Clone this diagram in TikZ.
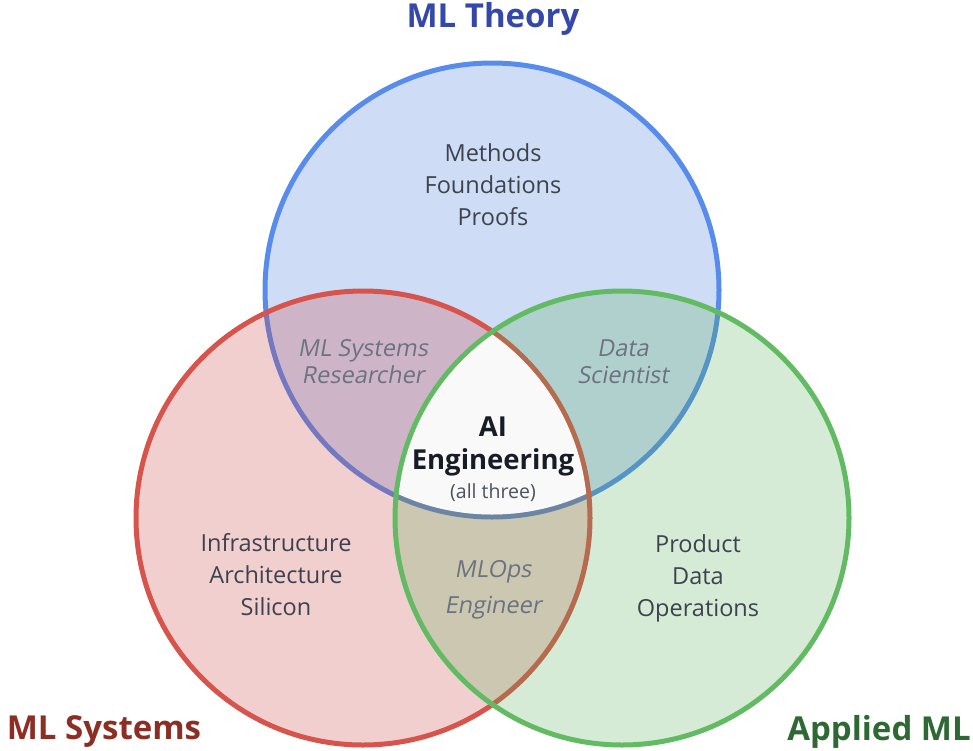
\documentclass[tikz,border=0pt]{standalone}
\usepackage{fontspec}
\setmainfont{Open Sans}
\newfontfamily\rolefont[FakeSlant=0.18]{Open Sans}
\definecolor{thBase}{RGB}{63,115,215}
\definecolor{thLine}{RGB}{88,140,236}
\definecolor{syBase}{RGB}{203,63,63}
\definecolor{syLine}{RGB}{214,84,76}
\definecolor{apBase}{RGB}{87,175,87}
\definecolor{apLine}{RGB}{98,187,98}
\definecolor{thTitle}{RGB}{52,72,170}
\definecolor{syTitle}{RGB}{140,46,36}
\definecolor{apTitle}{RGB}{46,105,52}
\definecolor{bodyText}{RGB}{60,66,78}
\definecolor{roleText}{RGB}{108,114,128}
\definecolor{coreText}{RGB}{24,28,38}
\definecolor{noteText}{RGB}{75,82,96}
\tikzset{
  ring/.style={line width=5pt},
  title/.style={font=\fontsize{33}{38}\selectfont\bfseries, inner sep=0pt},
  body/.style={font=\fontsize{23.5}{32}\selectfont, text=bodyText, align=center, inner sep=0pt},
  role/.style={font=\rolefont\fontsize{23.5}{27}\selectfont, text=roleText, align=center, inner sep=0pt},
}
\begin{document}
\begin{tikzpicture}[x=1pt,y=-1pt]
\useasboundingbox (0,0) rectangle (973,750);
\def\rr{227}
\coordinate (cT) at (492,290);
\coordinate (cS) at (363,518);
\coordinate (cA) at (622,518);
% three overlapping fields
\fill[thBase, fill opacity=0.25] (cT) circle (\rr);
\draw[ring, thLine] (cT) circle (\rr);
\fill[syBase, fill opacity=0.25] (cS) circle (\rr);
\draw[ring, syLine] (cS) circle (\rr);
\fill[apBase, fill opacity=0.25] (cA) circle (\rr);
\draw[ring, apLine] (cA) circle (\rr);
% the common core
\begin{scope}
  \clip (cT) circle (224.5);
  \clip (cS) circle (224.5);
  \fill[white, fill opacity=0.93] (cA) circle (224.5);
\end{scope}
% titles
\node[title, text=thTitle] (tT) at (493,19) {ML Theory};
\node[title, text=syTitle] (tS) at (104,732) {ML Systems};
\node[title, text=apTitle] (tA) at (879,732) {Applied ML};
% single-field topics
\node[body] (bT) at (493,185) {Methods\\Foundations\\Proofs};
\node[body] (bS) at (276,575) {Infrastructure\\Architecture\\Silicon};
\node[body] (bA) at (698,578) {Product\\Data\\Operations};
% pairwise roles
\node[role] (rTS) at (363,362) {ML Systems\\Researcher};
\node[role] (rTA) at (623,362) {Data\\Scientist};
\node[role, font=\rolefont\fontsize{23.5}{36}\selectfont] (rSA) at (493,590) {MLOps\\Engineer};
% centre
\node[font=\fontsize{27.5}{33}\selectfont\bfseries, text=coreText, align=center, inner sep=0pt] (core) at (493,446) {AI\\Engineering};
\node[font=\fontsize{19.5}{22}\selectfont, text=noteText, inner sep=0pt] (note) at (493,493) {(all three)};
\end{tikzpicture}
\end{document}
